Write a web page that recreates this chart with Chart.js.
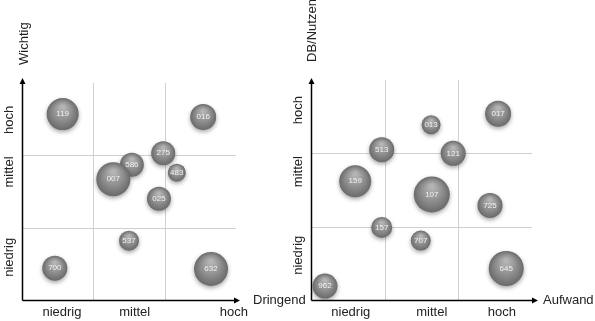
<!DOCTYPE html>
<html>
<head>
<meta charset="utf-8">
<script src="https://cdn.jsdelivr.net/npm/chart.js@4/dist/chart.umd.min.js"></script>
<style>
    body { margin: 0; background: #fff; width: 595px; height: 321px; position: relative; overflow: hidden; }
    canvas { position: absolute; top: 0; }
    #left-chart { left: 0; }
    #right-chart { left: 285px; }
</style>
</head>
<body>
<canvas id="left-chart" width="310" height="321"></canvas>
<canvas id="right-chart" width="310" height="321"></canvas>
<script>
// level names shared by both matrices
const levels = ['niedrig', 'mittel', 'hoch'];
const dividers = [1, 2];

// left matrix: Dringend / Wichtig
const left_ids = ['119', '016', '275', '586', '007', '483', '025', '537', '700', '632'];
const left_x = [0.57, 2.54, 1.98, 1.54, 1.28, 2.17, 1.92, 1.50, 0.46, 2.65];
const left_y = [2.57, 2.53, 2.03, 1.87, 1.67, 1.76, 1.40, 0.82, 0.44, 0.43];
const left_r = [16, 13, 12, 12, 17, 9, 12, 10, 12.5, 17];
const left_x_ticks = [0.56, 1.58, 2.97];
const left_y_ticks = [0.59, 1.77, 2.49];

// right matrix: Aufwand / DB/Nutzen
const right_ids = ['013', '017', '513', '121', '159', '107', '725', '157', '707', '645', '962'];
const right_x = [1.63, 2.54, 0.96, 1.93, 0.60, 1.64, 2.43, 0.96, 1.49, 2.65, 0.19];
const right_y = [2.39, 2.54, 2.05, 2.00, 1.62, 1.44, 1.29, 0.99, 0.81, 0.43, 0.19];
const right_r = [9.5, 13, 12.5, 12.5, 16, 18, 12.5, 10.5, 10, 17.5, 12.5];
const right_x_ticks = [0.54, 1.64, 2.59];
const right_y_ticks = [0.61, 1.75, 2.59];

const font_family = '"Liberation Sans", Arial, sans-serif';

function sphere_colour(context) {
    let chart = context.chart;
    let raw = context.raw;
    if (!raw || !chart.scales.x) return '#8a8a8a';
    let cx = chart.scales.x.getPixelForValue(raw.x);
    let cy = chart.scales.y.getPixelForValue(raw.y);
    let r = raw.r;
    if (!isFinite(cx) || !isFinite(cy)) return '#8a8a8a';
    let g = chart.ctx.createRadialGradient(cx, cy - r * 0.45, r * 0.1, cx, cy, r);
    g.addColorStop(0, '#b4b4b4');
    g.addColorStop(0.55, '#8e8e8e');
    g.addColorStop(1, '#6a6a6a');
    return g;
}

// draws dividers, arrows, axis titles, y labels and bubble labels
const matrix_plugin = {
    id: 'matrix',
    beforeDatasetsDraw(chart, args, opts) {
        let ctx = chart.ctx;
        let area = chart.chartArea;
        let xs = chart.scales.x;
        let ys = chart.scales.y;

        ctx.save();
        ctx.strokeStyle = '#d0d0d0';
        ctx.lineWidth = 1;
        dividers.forEach(v => {
            let px = Math.round(xs.getPixelForValue(v)) + 0.5;
            ctx.beginPath();
            ctx.moveTo(px, area.top);
            ctx.lineTo(px, area.bottom);
            ctx.stroke();
            let py = Math.round(ys.getPixelForValue(v)) + 0.5;
            ctx.beginPath();
            ctx.moveTo(area.left, py);
            ctx.lineTo(area.right, py);
            ctx.stroke();
        });

        // axes with arrows
        let ax = Math.round(area.left) + 0.5;
        let ay = Math.round(area.bottom) + 0.5;
        let top_tip = area.top - opts.arrowUp;
        let right_tip = area.right + opts.arrowRight;
        ctx.strokeStyle = '#000';
        ctx.fillStyle = '#000';
        ctx.lineWidth = 1.5;
        ctx.beginPath();
        ctx.moveTo(ax, ay);
        ctx.lineTo(ax, top_tip + 4);
        ctx.moveTo(ax, ay);
        ctx.lineTo(right_tip - 4, ay);
        ctx.stroke();
        ctx.beginPath();
        ctx.moveTo(ax, top_tip);
        ctx.lineTo(ax - 3, top_tip + 6);
        ctx.lineTo(ax + 3, top_tip + 6);
        ctx.closePath();
        ctx.fill();
        ctx.beginPath();
        ctx.moveTo(right_tip, ay);
        ctx.lineTo(right_tip - 6, ay - 3);
        ctx.lineTo(right_tip - 6, ay + 3);
        ctx.closePath();
        ctx.fill();

        // titles
        ctx.fillStyle = '#222';
        ctx.font = '13px ' + font_family;
        ctx.textBaseline = 'middle';
        ctx.textAlign = 'left';
        ctx.fillText(opts.xTitle, right_tip + opts.xTitleGap, ay);

        ctx.save();
        ctx.translate(ax + opts.yTitleShift, area.top - 18);
        ctx.rotate(-Math.PI / 2);
        ctx.fillText(opts.yTitle, 0, 0);
        ctx.restore();

        // rotated y labels
        ctx.textAlign = 'center';
        opts.yTicks.forEach((v, i) => {
            ctx.save();
            ctx.translate(area.left - 13, ys.getPixelForValue(v));
            ctx.rotate(-Math.PI / 2);
            ctx.fillText(levels[i], 0, 0);
            ctx.restore();
        });
        ctx.restore();

        // soft shadow below the spheres
        ctx.save();
        ctx.shadowColor = 'rgba(0, 0, 0, 0.35)';
        ctx.shadowBlur = 4;
        ctx.shadowOffsetY = 2;
    },
    afterDatasetsDraw(chart, args, opts) {
        let ctx = chart.ctx;
        ctx.restore();

        ctx.save();
        ctx.fillStyle = '#f2f2f2';
        ctx.font = '8px ' + font_family;
        ctx.textAlign = 'center';
        ctx.textBaseline = 'middle';
        let meta = chart.getDatasetMeta(0);
        meta.data.forEach((pt, i) => {
            ctx.fillText(opts.ids[i], pt.x, pt.y);
        });
        ctx.restore();
    }
};

function make_matrix(canvas_id, cfg) {
    let points = cfg.xs.map((x, i) => ({ x: x, y: cfg.ys[i], r: cfg.rs[i] }));

    return new Chart(document.getElementById(canvas_id), {
        type: 'bubble',
        data: {
            datasets: [{
                data: points,
                backgroundColor: sphere_colour,
                borderWidth: 0,
                hoverRadius: 0
            }]
        },
        options: {
            responsive: false,
            animation: false,
            events: [],
            layout: { padding: cfg.padding },
            plugins: {
                legend: { display: false },
                tooltip: { enabled: false },
                matrix: {
                    ids: cfg.ids,
                    yTicks: cfg.yTicks,
                    xTitle: cfg.xTitle,
                    yTitle: cfg.yTitle,
                    xTitleGap: cfg.xTitleGap,
                    yTitleShift: cfg.yTitleShift,
                    arrowUp: cfg.arrowUp,
                    arrowRight: cfg.arrowRight
                }
            },
            scales: {
                x: {
                    type: 'linear',
                    min: 0,
                    max: 3,
                    grid: { display: false, drawTicks: false },
                    border: { display: false },
                    afterBuildTicks: scale => {
                        scale.ticks = cfg.xTicks.map(v => ({ value: v }));
                    },
                    afterFit: scale => { scale.height = 21; },
                    ticks: {
                        autoSkip: false,
                        maxRotation: 0,
                        padding: 5,
                        color: '#222',
                        font: { size: 13, family: font_family },
                        callback: (v, i) => levels[i]
                    }
                },
                y: {
                    type: 'linear',
                    display: false,
                    min: 0,
                    max: 3
                }
            }
        },
        plugins: [matrix_plugin]
    });
}

make_matrix('left-chart', {
    ids: left_ids, xs: left_x, ys: left_y, rs: left_r,
    xTicks: left_x_ticks, yTicks: left_y_ticks,
    xTitle: 'Dringend', yTitle: 'Wichtig',
    xTitleGap: 13, yTitleShift: 2,
    arrowUp: 5, arrowRight: 4,
    padding: { left: 22, top: 83, right: 74, bottom: 0 }
});

make_matrix('right-chart', {
    ids: right_ids, xs: right_x, ys: right_y, rs: right_r,
    xTicks: right_x_ticks, yTicks: right_y_ticks,
    xTitle: 'Aufwand', yTitle: 'DB/Nutzen',
    xTitleGap: 5, yTitleShift: 1,
    arrowUp: 2, arrowRight: 6,
    padding: { left: 26, top: 80, right: 63, bottom: 0 }
});
</script>
</body>
</html>
